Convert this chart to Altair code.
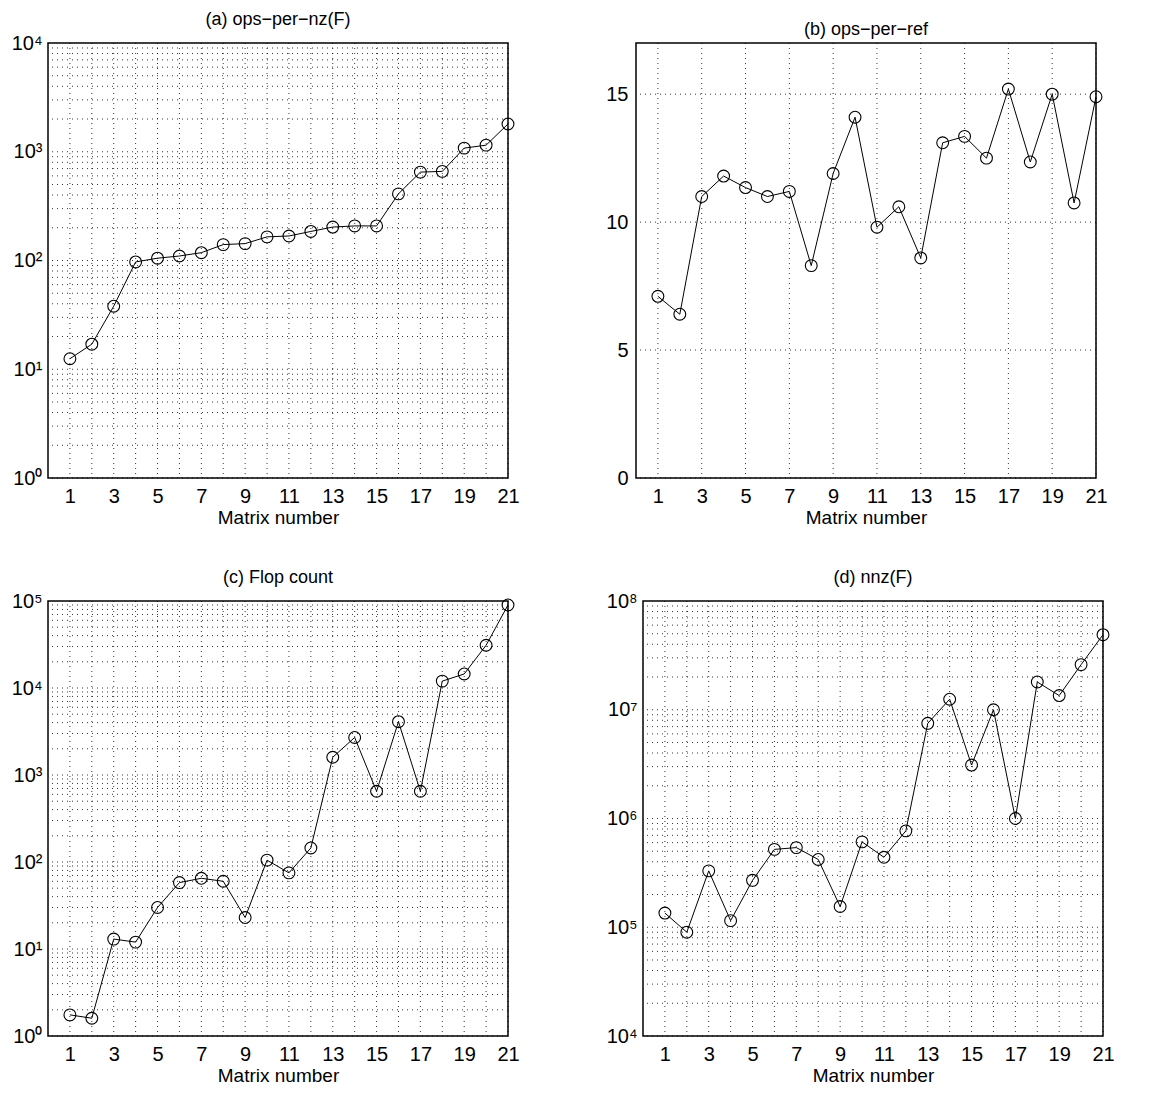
import altair as alt
import pandas as pd

matrix = list(range(1, 22))
ops_per_nz = [12.5, 17, 38, 97, 105, 110, 118, 140, 143, 165, 168, 185, 203, 208, 208,
              410, 650, 660, 1080, 1150, 1800]
ops_per_ref = [7.1, 6.4, 11.0, 11.8, 11.35, 11.0, 11.2, 8.3, 11.9, 14.1, 9.8, 10.6, 8.6,
               13.1, 13.35, 12.5, 15.2, 12.35, 15.0, 10.75, 14.9]
flops = [1.75, 1.6, 13, 12, 30, 58, 65, 60, 23, 105, 75, 145, 1600, 2700, 650, 4100, 650,
         12000, 14500, 31000, 90000]
nnz_f = [1.35e5, 9e4, 3.3e5, 1.15e5, 2.7e5, 5.2e5, 5.4e5, 4.2e5, 1.55e5, 6.1e5, 4.4e5,
         7.7e5, 7.5e6, 1.25e7, 3.1e6, 1e7, 1e6, 1.8e7, 1.35e7, 2.6e7, 4.9e7]
x_ticks = list(range(1, 22, 2))

FONT = "Liberation Sans"
W, H = 460, 435
SUP = "['⁰','¹','²','³','⁴','⁵','⁶','⁷','⁸','⁹']"


def panel(values, title, log_range=None, lin_domain=None, lin_ticks=None):
    df = pd.DataFrame({"m": matrix, "v": values})
    xs = alt.Scale(domain=[0, 21], nice=False, zero=False)
    if log_range:
        lo, hi = log_range
        ys = alt.Scale(type="log", domain=[10 ** lo, 10 ** hi], nice=False)
        yticks = [10 ** k for k in range(lo, hi + 1)]
        hgrid = [m * 10 ** k for k in range(lo, hi) for m in range(1, 10)]
        vgrid = matrix
        yaxis = alt.Axis(values=yticks, grid=False, ticks=False, labelFontSize=20,
                         labelFont=FONT, labelColor="black", domain=False, labelPadding=6,
                         labelFlush=False,
                         labelExpr="'10' + " + SUP + "[round(log(datum.value)/LN10)]")
    else:
        ys = alt.Scale(domain=lin_domain, nice=False)
        yticks = lin_ticks
        hgrid = lin_ticks
        vgrid = x_ticks
        yaxis = alt.Axis(values=yticks, grid=False, ticks=False, labelFontSize=20,
                         labelFont=FONT, labelColor="black", domain=False, labelPadding=8,
                         labelFlush=False)

    line = alt.Chart(df).mark_line(color="black", strokeWidth=1).encode(
        x=alt.X("m:Q", scale=xs, title="Matrix number",
                axis=alt.Axis(values=x_ticks, grid=False, ticks=False, domain=False,
                              labelFlush=False, labelOverlap=False,
                              labelFontSize=20, labelFont=FONT, labelColor="black",
                              titleFontSize=19, titleFont=FONT, titleFontWeight="normal",
                              titleColor="black", labelPadding=8, titlePadding=2)),
        y=alt.Y("v:Q", scale=ys, title=None, axis=yaxis))
    pts = alt.Chart(df).mark_point(
        shape="circle", filled=False, color="black", size=140, strokeWidth=1.1, opacity=1).encode(
        x=alt.X("m:Q", scale=xs, axis=None), y=alt.Y("v:Q", scale=ys, axis=None))

    hg = alt.Chart(pd.DataFrame({"g": hgrid})).mark_rule(
        color="black", strokeDash=[1, 4], strokeWidth=0.8).encode(y=alt.Y("g:Q", scale=ys, axis=None))
    vg = alt.Chart(pd.DataFrame({"g": vgrid})).mark_rule(
        color="black", strokeDash=[1, 4], strokeWidth=0.8).encode(x=alt.X("g:Q", scale=xs, axis=None))

    return alt.layer(line, pts, hg, vg).resolve_axis(x="independent", y="independent").properties(
        width=W, height=H,
        title=alt.Title(title, fontSize=18, font=FONT, fontWeight="normal", color="black", offset=4))


a = panel(ops_per_nz, "(a) ops−per−nz(F)", log_range=(0, 4))
b = panel(ops_per_ref, "(b) ops−per−ref", lin_domain=[0, 17], lin_ticks=[0, 5, 10, 15])
c = panel(flops, "(c) Flop count", log_range=(0, 5))
d = panel(nnz_f, "(d) nnz(F)", log_range=(4, 8))

chart = alt.vconcat(
    alt.hconcat(a, b, spacing=85),
    alt.hconcat(c, d, spacing=85),
    spacing=40,
).properties(padding=2).configure_view(stroke="black", strokeWidth=1.5)

chart.save("out.html", embed_options={"renderer": "svg", "actions": False})
